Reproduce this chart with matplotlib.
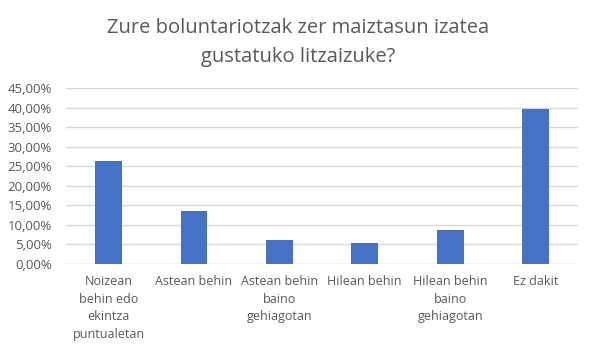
import matplotlib
matplotlib.use("Agg")
import matplotlib.pyplot as plt
from matplotlib.ticker import FuncFormatter

categories = ["Noizean\nbehin edo\nekintza\npuntualetan", "Astean behin",
              "Astean behin\nbaino\ngehiagotan", "Hilean behin",
              "Hilean behin\nbaino\ngehiagotan", "Ez dakit"]
values = [26.4, 13.6, 6.15, 5.35, 8.7, 39.7]
yticks = [0, 5, 10, 15, 20, 25, 30, 35, 40, 45]
title = "Zure boluntariotzak zer maiztasun izatea\ngustatuko litzaizuke?"

plt.rcParams['font.family'] = ['Open Sans', 'DejaVu Sans']
grey = "#595959"

fig = plt.figure(figsize=(5.96, 3.52), dpi=100)
ax = fig.add_axes([0.1107, 0.25, 0.8593, 0.499])
x = list(range(len(categories)))
ax.bar(x, values, width=0.316, color="#4472C4", zorder=3)
ax.set_xlim(-0.5, len(categories) - 0.5)
ax.set_ylim(0, 45)
ax.set_yticks(yticks)
ax.yaxis.set_major_formatter(FuncFormatter(lambda v, p: f"{v:.2f}".replace(".", ",") + "%"))
ax.set_xticks(x)
ax.set_xticklabels(categories, linespacing=1.45)
ax.tick_params(axis='both', length=0, colors=grey, labelsize=9)
ax.tick_params(axis='y', pad=10, labelsize=9.5)
ax.tick_params(axis='x', pad=8)
ax.grid(axis='y', color="#d9d9d9", linewidth=1, zorder=0)
for s in ax.spines.values():
    s.set_visible(False)
ax.axhline(0, color="#d9d9d9", linewidth=1, zorder=2)
fig.text(0.5, 0.95, title, ha='center', va='top', fontsize=14.5, color=grey, linespacing=1.65)
fig.savefig("out.png", dpi=100)
